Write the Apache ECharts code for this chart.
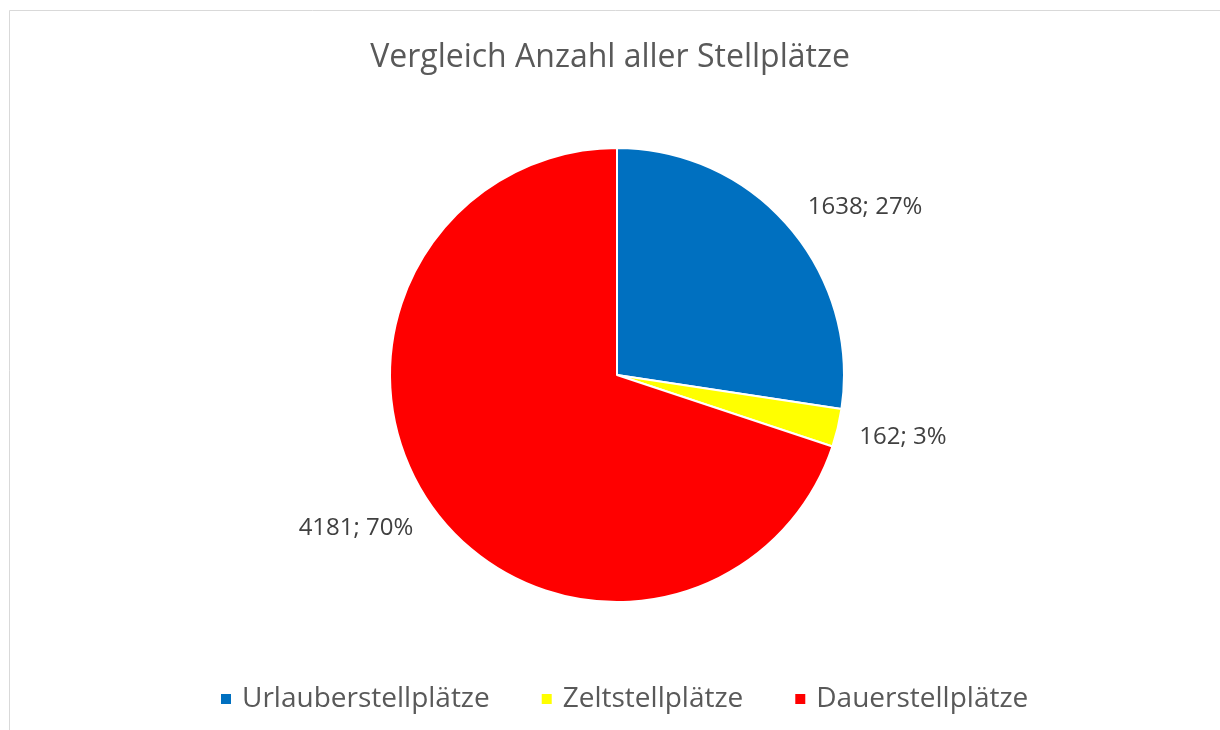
<!DOCTYPE html>
<html>
<head>
<meta charset="utf-8">
<script src="https://cdn.jsdelivr.net/npm/echarts@6/dist/echarts.min.js"></script>
<style>
  html, body { margin: 0; padding: 0; background: #fff; }
  #chart { width: 1220px; height: 730px; }
</style>
</head>
<body>
<div id="chart"></div>
<script>
const categories = ['Urlauberstellplätze', 'Zeltstellplätze', 'Dauerstellplätze']
const values = [1638, 162, 4181]
const colors = ['#0070c0', '#ffff00', '#ff0000']

// small nudges so the labels sit where Excel's "best fit" put them
const labelNudge = [[-4, -8], [-5, 5], [4, 10]]

const chart = echarts.init(document.getElementById('chart'))

const option = {
  animation: false,
  backgroundColor: '#fff',
  color: colors,
  title: {
    text: 'Vergleich Anzahl aller Stellplätze',
    left: 'center',
    top: 37,
    textStyle: {
      fontFamily: 'Open Sans',
      fontSize: 32,
      fontWeight: 'normal',
      color: '#595959',
    },
  },
  legend: {
    bottom: 12,
    left: 214,
    itemWidth: 12,
    itemHeight: 12,
    itemGap: 50,
    icon: 'rect',
    textStyle: {
      fontFamily: 'Open Sans',
      fontSize: 28,
      color: '#595959',
      padding: [0, 0, 0, 5],
    },
    data: categories,
  },
  graphic: [{
    type: 'rect',
    shape: { x: 9.5, y: 10.5, width: 1230, height: 740 },
    style: { fill: 'none', stroke: '#d9d9d9', lineWidth: 1 },
    silent: true,
  }],
  series: [{
    type: 'pie',
    center: [617, 375],
    radius: 227,
    startAngle: 90,
    clockwise: true,
    itemStyle: { borderColor: '#fff', borderWidth: 2 },
    label: {
      show: true,
      position: 'outside',
      formatter: p => `${p.value}; ${Math.round(p.percent)}%`,
      fontFamily: 'Open Sans',
      fontSize: 24,
      color: '#404040',
    },
    labelLine: { show: false, length: 18, length2: 4 },
    labelLayout: params => {
      const n = labelNudge[params.dataIndex] || [0, 0]
      return { dx: n[0], dy: n[1] }
    },
    data: categories.map((name, i) => ({ name, value: values[i] })),
  }],
}

chart.setOption(option)
</script>
</body>
</html>
